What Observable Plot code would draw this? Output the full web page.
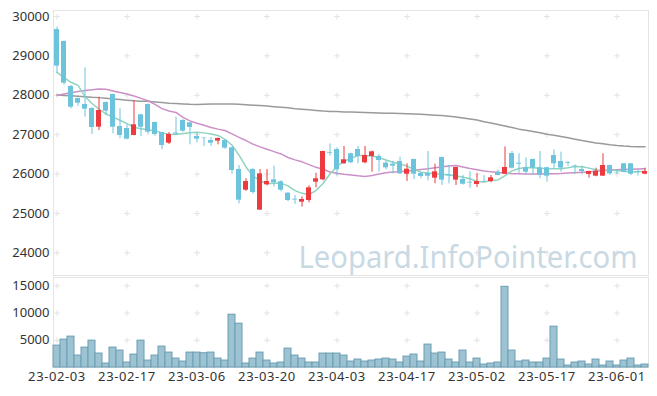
<!DOCTYPE html>
<html><head><meta charset="utf-8">
<script src="https://cdn.jsdelivr.net/npm/d3@7"></script>
<script src="https://cdn.jsdelivr.net/npm/@observablehq/plot@0.6"></script>
<style>body{margin:0;background:#fff;} #chart svg{display:block;}</style>
</head><body><div id="chart"></div>
<script>
const dates = ["23-02-03","23-02-06","23-02-07","23-02-08","23-02-09","23-02-10","23-02-13","23-02-14","23-02-15","23-02-16",
"23-02-17","23-02-20","23-02-21","23-02-22","23-02-23","23-02-24","23-02-27","23-02-28","23-03-02","23-03-03",
"23-03-06","23-03-07","23-03-08","23-03-09","23-03-10","23-03-13","23-03-14","23-03-15","23-03-16","23-03-17",
"23-03-20","23-03-21","23-03-22","23-03-23","23-03-24","23-03-27","23-03-28","23-03-29","23-03-30","23-03-31",
"23-04-03","23-04-04","23-04-05","23-04-06","23-04-07","23-04-10","23-04-11","23-04-12","23-04-13","23-04-14",
"23-04-17","23-04-18","23-04-19","23-04-20","23-04-21","23-04-24","23-04-25","23-04-26","23-04-27","23-04-28",
"23-05-02","23-05-03","23-05-04","23-05-08","23-05-09","23-05-10","23-05-11","23-05-12","23-05-15","23-05-16",
"23-05-17","23-05-18","23-05-19","23-05-22","23-05-23","23-05-24","23-05-25","23-05-26","23-05-30","23-05-31",
"23-06-01","23-06-02","23-06-05","23-06-07","23-06-08"];

const opens = [29670,29365,28223,27918,27766,27664,27190,27816,28020,27207,
27156,26979,27503,27766,27309,27055,26783,27040,27360,27300,
26953,26910,26852,26835,26852,26666,26115,25590,26115,25083,
25727,25853,25802,25513,25360,25286,25328,25794,25853,26540,
26623,26260,26514,26623,26285,26446,26446,26276,26250,26318,
25996,26370,26013,26013,25895,26420,25980,25845,25862,25790,
25735,25815,25810,26047,25996,26521,26275,26160,26370,26160,
26160,26470,26318,26290,26210,26115,25990,25946,25946,26216,
26040,26260,26260,26060,25996];
const highs = [29730,29380,28250,27930,28697,27680,27951,27830,28030,27656,
27250,27867,27515,27780,27320,27060,27055,27443,27380,27310,
27047,26930,26920,26920,26870,26680,26216,25880,26130,26115,
26115,26200,25830,25530,25455,25420,25700,26022,26580,26765,
26665,26700,26530,26700,26700,26580,26500,26327,26327,26427,
26260,26380,26030,26573,26250,26430,26220,26170,25963,26060,
26005,25960,25963,26100,26690,26573,26514,26412,26380,26573,
26170,26615,26555,26320,26230,26200,26070,26150,26514,26230,
26100,26270,26270,26100,26150];
const lows = [28545,28260,27656,27720,27443,27004,27106,27486,27020,26895,
26870,26970,26953,26998,26960,26616,26750,26990,27063,26742,
26793,26700,26700,26740,26630,25996,25245,25560,25488,25083,
25701,25666,25549,25300,25230,25160,25270,25650,25830,26455,
25955,26250,26270,26260,26260,26047,26047,26107,26000,25990,
25810,25860,25880,25828,25752,25710,25750,25710,25720,25640,
25658,25780,25780,25950,25990,26130,26005,25980,25963,25880,
25793,26133,26047,26200,26000,25980,25895,25930,25940,25963,
25990,26030,25960,25950,25980];
const closes = [28740,28307,27697,27799,27647,27182,27613,27596,27190,26979,
26885,27250,27190,27063,27004,26725,27004,27010,27088,27182,
26885,26900,26783,26902,26656,26090,25336,25810,25530,26005,
25810,25777,25590,25328,25340,25353,25650,25880,26573,26520,
26108,26362,26285,26446,26470,26565,26344,26158,26200,26005,
26123,25996,25938,25945,26056,25845,25955,26166,25742,25770,
25810,25805,25904,25963,26166,26148,26250,26047,26150,25963,
25946,26260,26150,26270,26200,26064,26064,26073,26216,26005,
26030,26047,25996,26040,26064];
const volumes = [4020,5120,5670,2190,3655,4935,2557,726,3655,3105,
909,2373,4935,1275,2190,3838,2739,1641,1092,2739,
2739,2617,2739,1641,1275,9693,8047,726,1641,2739,
1275,726,909,3472,2190,1641,909,909,2557,2557,
2557,2190,1092,1458,1092,1275,1458,1641,1458,909,
2007,2373,1092,4203,2557,2739,1458,909,3105,909,
1641,543,726,909,14817,3105,1092,1275,909,909,
1641,7497,1458,360,909,1092,543,1458,360,1092,
360,1275,1641,360,543];
const ma5 = [28580,28450,28330,28250,27970,27790,27650,27525,27445,27365,
27280,27190,27148,27122,27100,27045,27010,27005,27030,27050,
27060,27045,27015,26980,26880,26730,26480,26180,25950,25830,
25755,25765,25770,25700,25580,25510,25480,25580,25760,26000,
26200,26320,26400,26470,26472,26460,26420,26355,26300,26260,
26200,26120,26047,26025,26008,25995,25975,25955,25920,25880,
25810,25800,25836,25850,25960,26080,26140,26165,26160,26145,
26135,26133,26135,26160,26190,26185,26150,26110,26100,26095,
26090,26070,26050,26060,26070];
const ma20 = [27995,28030,28065,28095,28120,28140,28160,28150,28110,28070,
28030,27980,27920,27860,27770,27660,27600,27565,27440,27350,
27290,27240,27180,27140,27105,27020,26930,26850,26760,26690,
26630,26570,26510,26420,26360,26310,26240,26170,26120,26050,
26020,25995,25975,25955,25940,25965,26000,26030,26050,26060,
26075,26095,26115,26135,26160,26185,26205,26215,26180,26140,
26110,26080,26055,26040,26025,26010,26005,26000,26000,26000,
26005,26010,26015,26025,26035,26047,26060,26070,26085,26100,
26107,26115,26120,26128,26133];
const ma60 = [28005,27995,27985,27975,27965,27950,27940,27925,27905,27890,
27875,27860,27850,27845,27830,27815,27800,27790,27780,27770,
27768,27770,27775,27780,27780,27778,27770,27760,27748,27740,
27725,27710,27695,27680,27660,27645,27630,27615,27600,27590,
27585,27578,27572,27566,27560,27555,27550,27545,27541,27537,
27530,27522,27515,27505,27495,27485,27470,27450,27425,27400,
27370,27330,27295,27260,27220,27180,27140,27110,27080,27050,
27010,26985,26955,26920,26885,26850,26820,26790,26770,26745,
26725,26710,26700,26695,26690];

const xTickIdx = [0,10,20,30,40,50,60,70,80];
const priceTicks = [24000,25000,26000,27000,28000,29000,30000];
const volTicks = [5000,10000,15000];
const watermark = "Leopard.InfoPointer.com";

const rows = dates.map((d,i) => ({i, date:d, open:opens[i], high:highs[i], low:lows[i], close:closes[i],
  vol:volumes[i], ma5:ma5[i], ma20:ma20[i], ma60:ma60[i]}));
const upRows = rows.filter(r => r.close > r.open);
const downRows = rows.filter(r => r.close <= r.open);
const RED = "#ec3a3f", BLUE = "#6cc4dc";
const gridTop = xTickIdx.flatMap(x => priceTicks.map(y => ({x, y})));
const gridVol = xTickIdx.flatMap(x => volTicks.map(y => ({x, y})));
const fontStyle = {fontFamily: "'Noto Sans', sans-serif", fontSize: "13px", color: "#333", background: "#fff"};

const pricePlot = Plot.plot({
  width: 657, height: 276, marginTop: 10, marginBottom: 1, marginLeft: 53, marginRight: 9,
  style: fontStyle,
  x: {type: "linear", domain: [-0.5, 84.5], axis: null},
  y: {domain: [23424, 30152], ticks: priceTicks, tickSize: 0, tickPadding: 4, label: null, tickFormat: d => String(d)},
  marks: [
    Plot.frame({stroke: "#e4e4e4"}),
    Plot.dot(gridTop, {x: "x", y: "y", symbol: "plus", r: 2, stroke: "#e2e2e2", strokeWidth: 1}),
    Plot.text([watermark], {frameAnchor: "bottom-right", dx: -11, dy: -8, fontSize: 31, fill: "#c9d9e4", lineAnchor: "bottom", textAnchor: "end"}),
    Plot.line(rows, {x: "i", y: "ma60", stroke: "#9a9a9a", strokeWidth: 1.5}),
    Plot.line(rows, {x: "i", y: "ma20", stroke: "#cc90c8", strokeWidth: 1.5}),
    Plot.line(rows, {x: "i", y: "ma5", stroke: "#8fd3c0", strokeWidth: 1.5}),
    Plot.ruleX(downRows, {x: "i", y1: "low", y2: "high", stroke: BLUE}),
    Plot.ruleX(upRows, {x: "i", y1: "low", y2: "high", stroke: RED}),
    Plot.rectY(downRows, {x1: d => d.i - 0.5, x2: d => d.i + 0.5, y1: "open", y2: "close", fill: BLUE, insetLeft: 1, insetRight: 1}),
    Plot.rectY(upRows, {x1: d => d.i - 0.5, x2: d => d.i + 0.5, y1: "open", y2: "close", fill: RED, insetLeft: 1, insetRight: 1})
  ]
});

const volPlot = Plot.plot({
  width: 657, height: 120, marginTop: 1, marginBottom: 29, marginLeft: 53, marginRight: 9,
  style: fontStyle,
  x: {type: "linear", domain: [-0.5, 84.5], ticks: xTickIdx, tickSize: 0, tickPadding: 4, label: null, tickFormat: i => dates[i]},
  y: {domain: [0, 16525], ticks: volTicks, tickSize: 0, tickPadding: 4, label: null, tickFormat: d => String(d)},
  marks: [
    Plot.frame({stroke: "#e4e4e4"}),
    Plot.dot(gridVol, {x: "x", y: "y", symbol: "plus", r: 2, stroke: "#e2e2e2", strokeWidth: 1}),
    Plot.rectY(rows, {x1: d => d.i - 0.5, x2: d => d.i + 0.5, y1: 0, y2: "vol", fill: "#9dc3d3", stroke: "#6b9db3", strokeWidth: 1})
  ]
});

const el = document.getElementById("chart");
el.append(pricePlot, volPlot);
d3.select(pricePlot).selectAll("text").filter(function(){ return this.textContent === watermark; })
  .attr("textLength", 339).attr("lengthAdjust", "spacingAndGlyphs");
d3.select(volPlot).selectAll("g[aria-label='x-axis tick label'] text, g[aria-label='x-axis tick label'] text")
  .style("letter-spacing", "0.6px");
</script>
</body></html>
